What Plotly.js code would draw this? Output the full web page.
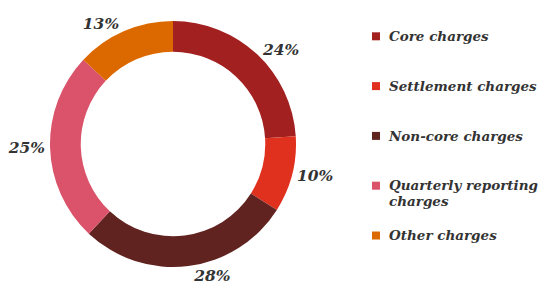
<!DOCTYPE html>
<html>
<head>
<meta charset="utf-8">
<script src="https://cdn.plot.ly/plotly-3.0.1.min.js"></script>
<style>
  html, body { margin: 0; padding: 0; background: #fff; }
  #chart { width: 555px; height: 302px; }
</style>
</head>
<body>
<div id="chart"></div>
<script>
const categories = ['Core charges', 'Settlement charges', 'Non-core charges', 'Quarterly reporting<br>charges', 'Other charges'];
const shares = [24, 10, 28, 25, 13];
const percentLabels = ['24%', '10%', '28%', '25%', '13%'];
const sliceColors = ['#a32020', '#e0301e', '#602320', '#db536a', '#dc6900'];

// pad every legend entry to three lines so the entries are evenly spaced
const legendLabels = categories.map(function (c) {
  const lines = c.split('<br>');
  while (lines.length < 3) lines.push('\u00a0');
  return lines.map(function (l) { return '<span style="font-size:13.5px">' + l + '</span>'; }).join('<br>');
});

const W = 555, H = 302;
const cx = 173, cy = 144, R = 123;

const trace = {
  type: 'pie',
  labels: legendLabels,
  values: shares,
  text: percentLabels,
  textinfo: 'text',
  textposition: 'outside',
  sort: false,
  direction: 'clockwise',
  rotation: 0,
  hole: 0.75,
  marker: { colors: sliceColors, line: { width: 0 } },
  outsidetextfont: { family: 'DejaVu Serif', size: 15.5, color: '#333333', weight: 'bold', style: 'italic' },
  domain: {
    x: [(cx - R) / W, (cx + R) / W],
    y: [(H - cy - R) / H, (H - cy + R) / H]
  },
  hoverinfo: 'none'
};

const layout = {
  width: W,
  height: H,
  margin: { l: 0, r: 0, t: 0, b: 0 },
  paper_bgcolor: '#ffffff',
  plot_bgcolor: '#ffffff',
  showlegend: true,
  legend: {
    x: 349 / W,
    xanchor: 'left',
    y: 1 - 22 / H,
    yanchor: 'top',
    valign: 'top',
    bgcolor: 'rgba(0,0,0,0)',
    font: { family: 'DejaVu Serif', size: 12, color: '#333333', weight: 'bold', style: 'italic' }
  }
};

Plotly.newPlot('chart', [trace], layout, { displayModeBar: false, staticPlot: true }).then(function (gd) {
  // smaller legend swatches, nearer the text, as in the reference
  gd.querySelectorAll('.legendpie').forEach(function (p) {
    p.setAttribute('d', 'M11,4H3V-4H11Z');
  });
});
</script>
</body>
</html>
